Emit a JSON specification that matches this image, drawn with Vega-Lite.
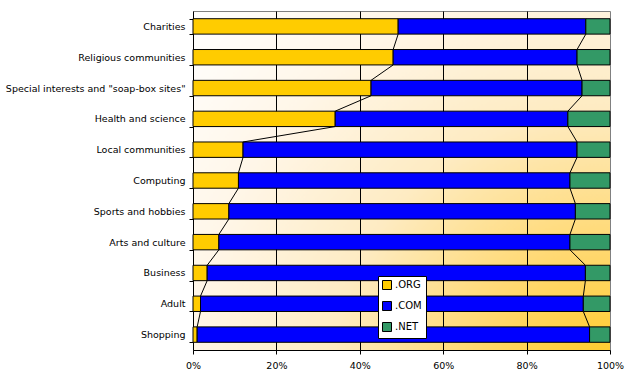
{
  "$schema": "https://vega.github.io/schema/vega-lite/v6.json",
  "width": 417,
  "height": 339,
  "autosize": {"type": "none"},
  "padding": {"left": 193, "top": 11, "right": 25, "bottom": 40},
  "background": "white",
  "config": {
    "font": "DejaVu Sans",
    "view": {
      "stroke": "#808080",
      "strokeWidth": 1,
      "fill": {
        "gradient": "radial",
        "x1": 1, "y1": 1, "r1": 0,
        "x2": 1, "y2": 1, "r2": 1.35,
        "stops": [
          {"offset": 0, "color": "#FFC81A"},
          {"offset": 0.25, "color": "#FFD870"},
          {"offset": 0.5, "color": "#FEEBC2"},
          {"offset": 0.75, "color": "#FFF6E8"},
          {"offset": 1, "color": "#FFFFFF"}
        ]
      }
    },
    "axisY": {
      "grid": false,
      "domainColor": "black",
      "tickColor": "black",
      "tickSize": 4,
      "tickBand": "extent",
      "labelFontSize": 9.5,
      "labelColor": "black",
      "labelPadding": 4
    },
    "legend": {
      "orient": "none",
      "legendX": 185,
      "legendY": 265,
      "fillColor": "white",
      "strokeColor": "black",
      "padding": 4,
      "symbolType": "square",
      "symbolSize": 81,
      "symbolStrokeColor": "black",
      "symbolStrokeWidth": 1,
      "labelFontSize": 10,
      "labelColor": "black",
      "rowPadding": 7,
      "labelOffset": 3,
      "title": null
    }
  },
  "data": {
    "values": [
      {"idx": 0, "cat": "Charities", "org": 49.2, "com": 45.0, "net": 5.8},
      {"idx": 1, "cat": "Religious communities", "org": 48.0, "com": 44.1, "net": 7.9},
      {"idx": 2, "cat": "Special interests and \"soap-box sites\"", "org": 42.7, "com": 50.6, "net": 6.7},
      {"idx": 3, "cat": "Health and science", "org": 34.1, "com": 55.8, "net": 10.1},
      {"idx": 4, "cat": "Local communities", "org": 12.0, "com": 80.1, "net": 7.9},
      {"idx": 5, "cat": "Computing", "org": 10.9, "com": 79.5, "net": 9.6},
      {"idx": 6, "cat": "Sports and hobbies", "org": 8.6, "com": 83.1, "net": 8.3},
      {"idx": 7, "cat": "Arts and culture", "org": 6.2, "com": 84.2, "net": 9.6},
      {"idx": 8, "cat": "Business", "org": 3.4, "com": 90.7, "net": 5.9},
      {"idx": 9, "cat": "Adult", "org": 1.8, "com": 91.8, "net": 6.4},
      {"idx": 10, "cat": "Shopping", "org": 1.0, "com": 94.1, "net": 4.9}
    ]
  },
  "layer": [
    {
      "transform": [
        {"fold": ["org", "com", "net"], "as": ["tld", "pct"]},
        {"calculate": "indexof(['org','com','net'], datum.tld)", "as": "ord"}
      ],
      "mark": {"type": "bar", "stroke": "black", "strokeWidth": 1},
      "encoding": {
        "y": {
          "field": "cat", "type": "nominal", "title": null,
          "sort": {"field": "idx", "op": "min"},
          "scale": {"paddingInner": 0.5, "paddingOuter": 0.25}
        },
        "x": {
          "field": "pct", "type": "quantitative", "stack": "zero", "title": null,
          "scale": {"domain": [0, 100], "nice": false},
          "axis": {
            "values": [0, 20, 40, 60, 80, 100],
            "labelExpr": "datum.value + '%'",
            "labelFlush": false,
            "grid": true,
            "gridColor": "black",
            "gridOpacity": {"condition": {"test": "datum.value == 0 || datum.value == 100", "value": 0}, "value": 1},
            "gridWidth": 1,
            "domainColor": "black",
            "tickColor": "black",
            "tickSize": 4,
            "labelFontSize": 9.5,
            "labelColor": "black",
            "labelPadding": 6
          }
        },
        "color": {
          "field": "tld", "type": "nominal",
          "scale": {"domain": ["org", "com", "net"], "range": ["#FFCC00", "#0000FF", "#339966"]},
          "legend": {"labelExpr": "'.' + upper(datum.label)"}
        },
        "order": {"field": "ord"}
      }
    },
    {
      "transform": [
        {"window": [
          {"op": "lead", "field": "cat", "as": "next"},
          {"op": "lead", "field": "org", "as": "orgNext"},
          {"op": "lead", "field": "com", "as": "comNext"}
        ], "sort": [{"field": "idx"}]},
        {"filter": "datum.next != null"},
        {"calculate": "datum.org + datum.com", "as": "c1"},
        {"calculate": "datum.orgNext + datum.comNext", "as": "c2"}
      ],
      "layer": [
        {
          "mark": {"type": "rule", "color": "black", "strokeWidth": 1},
          "encoding": {
            "y": {"field": "cat", "type": "nominal", "title": null, "sort": {"field": "idx", "op": "min"}, "bandPosition": 1},
            "y2": {"field": "next", "bandPosition": 0},
            "x": {"field": "org", "type": "quantitative", "title": null},
            "x2": {"field": "orgNext"}
          }
        },
        {
          "mark": {"type": "rule", "color": "black", "strokeWidth": 1},
          "encoding": {
            "y": {"field": "cat", "type": "nominal", "title": null, "sort": {"field": "idx", "op": "min"}, "bandPosition": 1},
            "y2": {"field": "next", "bandPosition": 0},
            "x": {"field": "c1", "type": "quantitative", "title": null},
            "x2": {"field": "c2"}
          }
        }
      ]
    }
  ]
}
